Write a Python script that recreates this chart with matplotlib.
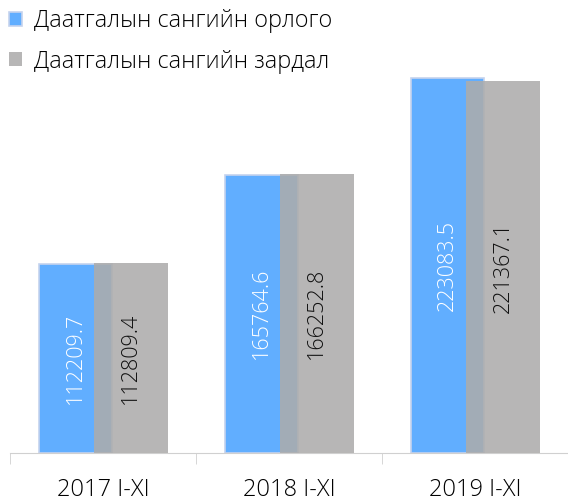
import matplotlib.pyplot as plt
import numpy as np

plt.rcParams['font.family'] = ['Open Sans', 'DejaVu Sans']
plt.rcParams['font.weight'] = 'light'

periods = ['2017 I-XI', '2018 I-XI', '2019 I-XI']
income = [112209.7, 165764.6, 223083.5]
expense = [112809.4, 166252.8, 221367.1]
labels = ['Даатгалын сангийн орлого', 'Даатгалын сангийн зардал']

fig = plt.figure(figsize=(5.68, 5.01), dpi=100)
ax = fig.add_axes([10 / 568, 48 / 501, 558 / 568, 420 / 501])

x = np.arange(len(periods))
w = 0.395
b1 = ax.bar(x - 0.147, income, w, color='#61AEFF', edgecolor='#C5D3EE',
            linewidth=1.2, label=labels[0], zorder=2)
b2 = ax.bar(x + 0.15, expense, w, color='#ADACAB', alpha=0.87,
            linewidth=0, label=labels[1], zorder=3)

for xi, v in zip(x, income):
    ax.text(xi - 0.147, v / 2, f'{v:.1f}', rotation=90, ha='center', va='center',
            color='white', fontsize=15.5, zorder=4)
for xi, v in zip(x, expense):
    ax.text(xi + 0.15, v / 2, f'{v:.1f}', rotation=90, ha='center', va='center',
            color='#111111', fontsize=15.5, zorder=4)

ax.set_xlim(-0.5, 2.5)
ax.set_ylim(0, 250000)
ax.set_xticks(x)
ax.set_xticklabels(periods, fontsize=17)
ax.set_xticks([-0.5, 0.5, 1.5, 2.5], minor=True)
ax.tick_params(axis='x', which='major', length=0, pad=18)
ax.tick_params(axis='x', which='minor', length=8, color='#D0D0D0')
ax.set_yticks([])
for s in ['top', 'right', 'left']:
    ax.spines[s].set_visible(False)
ax.spines['bottom'].set_color('#D0D0D0')

leg = fig.legend(loc='upper left', bbox_to_anchor=(0.0, 1.0), frameon=False,
                 fontsize=16.8, handlelength=0.55, handleheight=0.55,
                 handletextpad=0.5, labelspacing=0.7, borderaxespad=0.2,
                 borderpad=0.2)

fig.savefig('out.png', dpi=100)
